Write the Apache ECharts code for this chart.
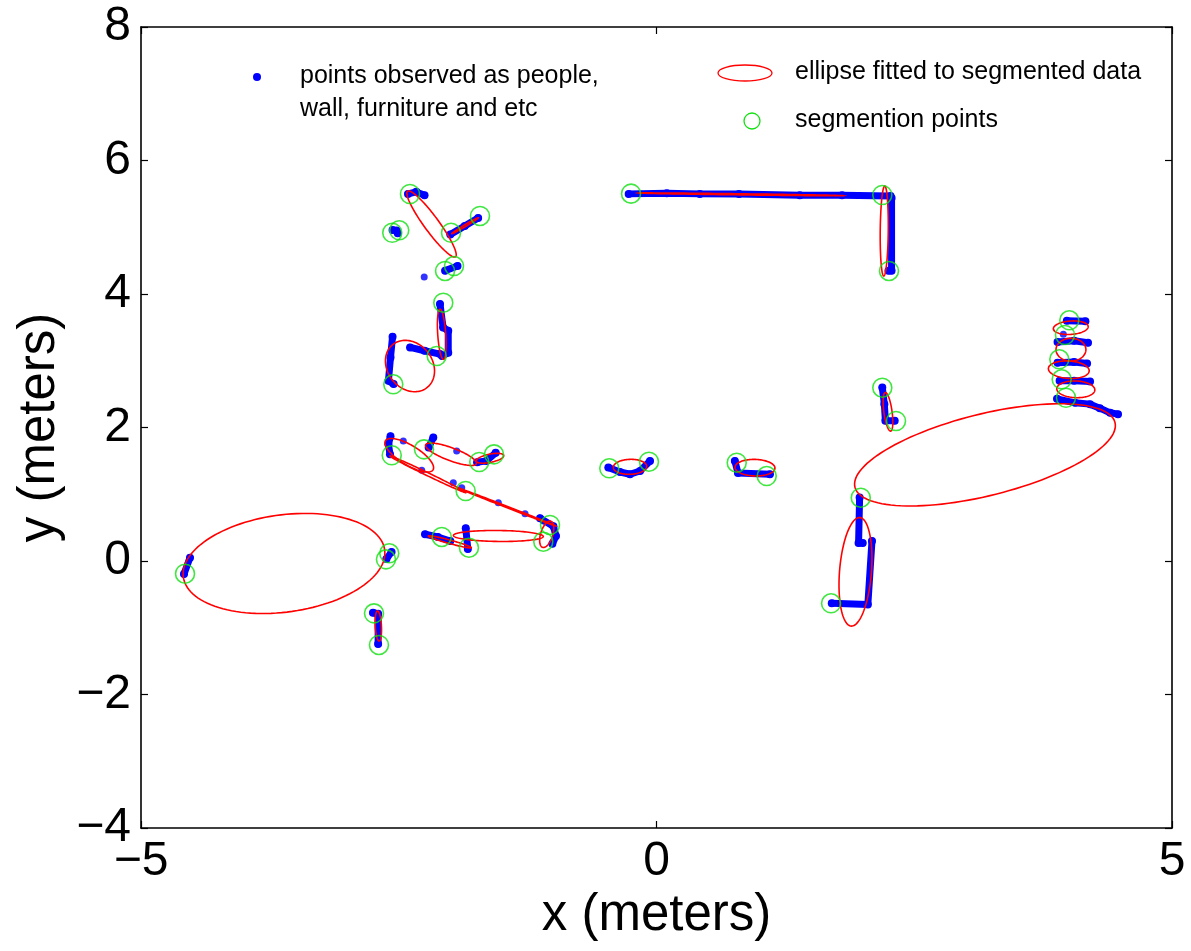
<!DOCTYPE html>
<html>
<head>
<meta charset="utf-8">
<script src="https://cdn.jsdelivr.net/npm/echarts@6/dist/echarts.min.js"></script>
<style>
html,body{margin:0;padding:0;background:#fff;}
#chart{width:1191px;height:951px;}
</style>
</head>
<body>
<div id="chart"></div>
<script>
// ---------- DATA ----------
const xTicks = [-5, 0, 5];
const yTicks = [-4, -2, 0, 2, 4, 6, 8];

// blue observed points, as short chains of [x, y] (meters)
const bluePaths = [
  [[-2.41,5.50],[-2.33,5.53],[-2.25,5.48]],
  [[-2.56,4.96],[-2.52,4.95],[-2.51,4.91]],
  [[-2.00,4.89],[-1.86,5.02],[-1.73,5.14]],
  [[-2.05,4.35],[-1.93,4.42]],
  [[-2.10,3.85],[-2.07,3.50],[-2.02,3.45],[-2.02,3.12],[-2.08,3.07]],
  [[-2.39,3.20],[-2.25,3.15],[-2.10,3.10]],
  [[-2.56,3.36],[-2.58,3.05],[-2.60,2.70],[-2.55,2.65]],
  [[-2.58,1.87],[-2.60,1.75],[-2.585,1.60]],
  [[-2.165,1.85],[-2.21,1.70]],
  [[-1.74,1.48],[-1.65,1.50],[-1.56,1.62]],
  [[-1.13,0.64],[-1.00,0.52],[-0.975,0.375],[-1.01,0.26]],
  [[-2.245,0.40],[-2.12,0.36],[-2.00,0.30]],
  [[-1.85,0.49],[-1.83,0.18]],
  [[-4.525,0.05],[-4.583,-0.195]],
  [[-2.57,0.135],[-2.62,0.03]],
  [[-2.75,-0.775],[-2.70,-0.79],[-2.70,-1.243]],
  [[-0.27,5.50],[0.10,5.51],[0.42,5.50],[0.80,5.50],[1.39,5.48],[1.80,5.48],[2.27,5.47],[2.28,5.44],[2.28,4.35],[2.25,4.35]],
  [[2.19,2.60],[2.21,2.35],[2.22,2.10],[2.31,2.10]],
  [[1.97,0.95],[1.96,0.27],[2.00,0.27]],
  [[2.09,0.30],[2.05,-0.65],[1.70,-0.634]],
  [[-0.467,1.40],[-0.354,1.333],[-0.257,1.30],[-0.16,1.348],[-0.063,1.498]],
  [[0.76,1.50],[0.79,1.32],[1.10,1.30]],
  [[3.98,3.60],[4.16,3.59]],
  [[3.89,3.28],[4.05,3.30],[4.185,3.27]],
  [[3.89,2.97],[4.05,2.98],[4.176,2.96]],
  [[3.91,2.70],[4.05,2.70],[4.205,2.69]],
  [[3.885,2.43],[4.06,2.37],[4.205,2.35],[4.30,2.29],[4.40,2.22],[4.476,2.20]]
];
const blueDots = [
  [-2.253,4.255],[-2.456,1.798],[-1.938,1.648],[-2.277,1.359],[-1.971,1.173],
  [-1.889,1.098],[-1.534,0.873],[-1.275,0.709],[-1.098,0.599],[3.946,3.396]
];

// fitted ellipses: centre, semi-axes, rotation (degrees), in meters
const ellipseCx    = [-2.182,-1.857,-2.083,-2.391,-2.398,-1.993,-1.615,-2.217,-1.450,-1.065,-1.534,-2.005,-3.613,-2.698, 0.818, 2.209,-0.257, 0.955, 2.245, 3.186, 4.018, 4.020, 3.999, 4.067, 1.930];
const ellipseCy    = [ 5.049, 5.023, 3.396, 2.921, 1.584, 1.599, 1.539, 1.298, 0.809, 0.400, 0.375, 0.287,-0.037,-0.974, 5.493, 4.944, 1.411, 1.398, 2.235, 1.590, 3.495, 3.166, 2.866, 2.572,-0.162];
const ellipseA     = [ 0.544, 0.176, 0.375, 0.389, 0.322, 0.285, 0.140, 0.460, 0.554, 0.200, 0.436, 0.226, 1.005, 0.225, 0.995, 0.674, 0.162, 0.194, 0.290, 1.358, 0.170, 0.170, 0.199, 0.185, 0.814];
const ellipseB     = [ 0.080, 0.012, 0.039, 0.231, 0.124, 0.089, 0.060, 0.020, 0.010, 0.060, 0.082, 0.025, 0.714, 0.030, 0.008, 0.039, 0.112, 0.124, 0.040, 0.585, 0.100, 0.145, 0.130, 0.125, 0.155];
const ellipseAngle = [ -65.2,  42.9,  92.5, 100.6, -47.5, -31.7,  20.0, -36.7, -31.0,  80.0,  -1.0, -22.9,  18.9,  92.0,  -1.15, 89.6,   5.0,  -3.0,  95.0,  23.8,   8.0,  90.0,  -8.0,  -5.0,  87.2];

// segmentation points
const segX = [-2.391,-2.563,-2.495,-1.993,-1.712,-2.051,-1.964,-2.068,-2.132,-2.553,-2.568,-2.255,-1.719,-1.576,-1.851,-1.033,-1.098,-2.083,-1.819,-4.573,-2.592,-2.624,-2.740,-2.692,-0.247, 2.190, 2.255,-0.458,-0.073, 0.778, 1.069, 2.190, 2.323, 1.981, 1.693, 4.004, 3.962, 3.907, 3.930, 3.972];
const segY = [ 5.498, 4.918, 4.954, 4.918, 5.169, 4.345, 4.419, 3.870, 3.071, 2.647, 1.584, 1.673, 1.483, 1.598, 1.049, 0.539, 0.289, 0.360, 0.199,-0.190, 0.115, 0.025,-0.784,-1.258, 5.503, 5.483, 4.345, 1.389, 1.488, 1.473, 1.273, 2.596, 2.097, 0.948,-0.634, 3.606, 3.386, 3.022, 2.722, 2.446];

const legendTexts = ['points observed as people,', 'wall, furniture and etc', 'ellipse fitted to segmented data', 'segmention points'];
const xName = 'x (meters)';
const yName = 'y (meters)';

// ---------- CHART ----------
const FONT = '"Liberation Sans", Arial, Helvetica, sans-serif';
const BLUE = '#0000ff', RED = '#ff0000', GREEN = '#12e012';
const minus = v => String(v).replace('-', '\u2212');

const chart = echarts.init(document.getElementById('chart'), null, {renderer: 'canvas'});

const series = [];
bluePaths.forEach(p => {
  series.push({
    type: 'line', data: p, xAxisIndex: 0, yAxisIndex: 0,
    showSymbol: true, symbol: 'circle', symbolSize: 8,
    itemStyle: {color: BLUE},
    lineStyle: {color: BLUE, width: 7, cap: 'round', join: 'round'},
    silent: true, animation: false, z: 2
  });
});
series.push({
  type: 'scatter', data: blueDots, symbol: 'circle', symbolSize: 7,
  itemStyle: {color: BLUE}, silent: true, animation: false, z: 2
});
series.push({
  type: 'custom', z: 3, silent: true, animation: false,
  dimensions: ['cx','cy','a','b','ang'],
  encode: {x: 0, y: 1},
  data: ellipseCx.map((c, i) => [c, ellipseCy[i], ellipseA[i], ellipseB[i], ellipseAngle[i]]),
  renderItem: function (params, api) {
    const cx = api.value(0), cy = api.value(1), a = api.value(2), b = api.value(3);
    const th = api.value(4) * Math.PI / 180;
    const pts = [];
    const N = 120;
    for (let i = 0; i < N; i++) {
      const t = 2 * Math.PI * i / N;
      const x = cx + a * Math.cos(t) * Math.cos(th) - b * Math.sin(t) * Math.sin(th);
      const y = cy + a * Math.cos(t) * Math.sin(th) + b * Math.sin(t) * Math.cos(th);
      pts.push(api.coord([x, y]));
    }
    return {type: 'polygon', shape: {points: pts}, style: {fill: 'none', stroke: RED, lineWidth: 1.6}};
  }
});
series.push({
  type: 'scatter', z: 4, silent: true, animation: false,
  data: segX.map((x, i) => [x, segY[i]]),
  symbol: 'circle', symbolSize: 19,
  itemStyle: {color: 'rgba(0,0,0,0)', borderColor: GREEN, borderWidth: 1.6}
});

const axisCommon = {
  axisLine: {show: true, onZero: false, lineStyle: {color: '#000', width: 1.6}},
  axisTick: {show: true, inside: true, length: 7, lineStyle: {color: '#000', width: 1.2}},
  splitLine: {show: false}
};

chart.setOption({
  backgroundColor: '#fff',
  animation: false,
  grid: {left: 141, right: 19, top: 27, bottom: 123, containLabel: false},
  xAxis: [
    Object.assign({
      type: 'value', min: xTicks[0], max: xTicks[xTicks.length - 1], interval: 5, position: 'bottom',
      name: xName, nameLocation: 'middle', nameGap: 56,
      nameTextStyle: {fontFamily: FONT, fontSize: 51, color: '#000'},
      axisLabel: {show: true, margin: 10, fontFamily: FONT, fontSize: 48, color: '#000', formatter: minus}
    }, axisCommon),
    Object.assign({
      type: 'value', min: xTicks[0], max: xTicks[xTicks.length - 1], interval: 5, position: 'top',
      axisLabel: {show: false}
    }, axisCommon)
  ],
  yAxis: [
    Object.assign({
      type: 'value', min: yTicks[0], max: yTicks[yTicks.length - 1], interval: 2, position: 'left',
      name: yName, nameLocation: 'middle', nameGap: 76, nameRotate: 90,
      nameTextStyle: {fontFamily: FONT, fontSize: 51, color: '#000'},
      axisLabel: {show: true, margin: 10, fontFamily: FONT, fontSize: 48, color: '#000', formatter: minus}
    }, axisCommon),
    Object.assign({
      type: 'value', min: yTicks[0], max: yTicks[yTicks.length - 1], interval: 2, position: 'right',
      axisLabel: {show: false}
    }, axisCommon)
  ],
  graphic: [
    {type: 'circle', shape: {cx: 257, cy: 77, r: 4}, style: {fill: BLUE}, z: 10},
    {type: 'text', left: 300, top: 64, style: {text: legendTexts[0], font: '25px ' + FONT, fill: '#000'}, z: 10},
    {type: 'text', left: 300, top: 97, style: {text: legendTexts[1], font: '25px ' + FONT, fill: '#000'}, z: 10},
    {type: 'ellipse', shape: {cx: 745, cy: 73, rx: 27, ry: 8}, style: {fill: 'none', stroke: RED, lineWidth: 1.3}, z: 10},
    {type: 'text', left: 795, top: 60, style: {text: legendTexts[2], font: '25px ' + FONT, fill: '#000'}, z: 10},
    {type: 'circle', shape: {cx: 752, cy: 121, r: 8}, style: {fill: 'none', stroke: GREEN, lineWidth: 1.3}, z: 10},
    {type: 'text', left: 795, top: 108, style: {text: legendTexts[3], font: '25px ' + FONT, fill: '#000'}, z: 10}
  ],
  series: series
});
</script>
</body>
</html>
